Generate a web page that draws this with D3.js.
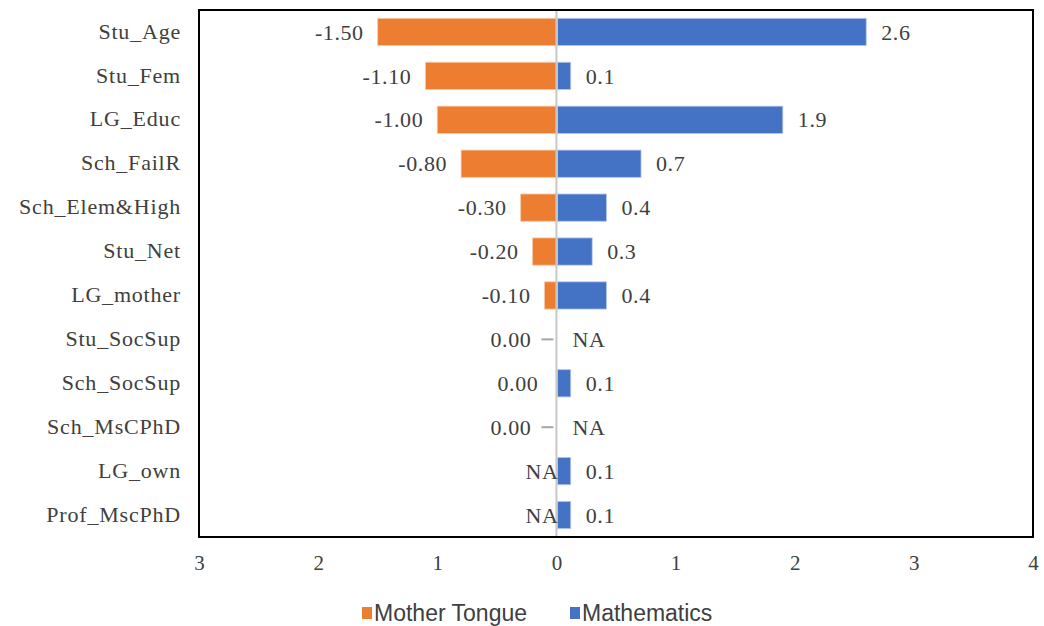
<!DOCTYPE html>
<html>
<head>
<meta charset="utf-8">
<script src="https://cdn.jsdelivr.net/npm/d3@7"></script>
<style>
  body { margin: 0; background: #fff; }
  svg text { font-family: "Liberation Serif", "Times New Roman", serif; fill: #404040; }
  .legend text { font-family: "Liberation Sans", Arial, sans-serif; }
</style>
</head>
<body>
<svg id="chart" width="1044" height="626"></svg>
<script>
// data
const categories = ['Stu_Age', 'Stu_Fem', 'LG_Educ', 'Sch_FailR', 'Sch_Elem&High', 'Stu_Net',
  'LG_mother', 'Stu_SocSup', 'Sch_SocSup', 'Sch_MsCPhD', 'LG_own', 'Prof_MscPhD'];
const motherTongue = [-1.5, -1.1, -1.0, -0.8, -0.3, -0.2, -0.1, 0, 0, 0, null, null];
const mathematics = [2.6, 0.12, 1.9, 0.71, 0.42, 0.3, 0.42, null, 0.12, null, 0.12, 0.12];
const xTicks = [-3, -2, -1, 0, 1, 2, 3, 4];
const seriesNames = ['Mother Tongue', 'Mathematics'];
const colors = ['#ED7D31', '#4472C4'];

const svg = d3.select('#chart');
const margin = { top: 10, right: 11, bottom: 89, left: 199 };
const width = 1044 - margin.left - margin.right;
const height = 626 - margin.top - margin.bottom;

const x = d3.scaleLinear().domain([-3, 4]).range([0, width]);
const y = d3.scaleBand().domain(categories).range([0, height]).paddingInner(0.38).paddingOuter(0.19);

const g = svg.append('g').attr('transform', `translate(${margin.left},${margin.top})`);
const fmt2 = v => d3.format('.2f')(v).replace('−', '-');

// category labels
g.selectAll('.cat')
  .data(categories)
  .enter().append('text')
  .attr('class', 'cat')
  .attr('x', -18)
  .attr('y', d => y(d) + y.bandwidth() / 2 - 1)
  .attr('dy', '0.35em')
  .attr('text-anchor', 'end')
  .style('font-size', '22px')
  .style('letter-spacing', '0.8px')
  .text(d => d);

const rows = categories.map((c, i) => ({ cat: c, mt: motherTongue[i], ma: mathematics[i] }));

// mother tongue bars
g.selectAll('.bar-mt')
  .data(rows.filter(d => d.mt !== null && d.mt !== 0))
  .enter().append('rect')
  .attr('class', 'bar-mt')
  .attr('x', d => x(d.mt))
  .attr('y', d => y(d.cat))
  .attr('width', d => x(0) - x(d.mt))
  .attr('height', y.bandwidth())
  .attr('fill', colors[0])
  .attr('stroke', '#f6c7a6')
  .attr('stroke-width', 0.8);

// mathematics bars
g.selectAll('.bar-ma')
  .data(rows.filter(d => d.ma !== null))
  .enter().append('rect')
  .attr('class', 'bar-ma')
  .attr('x', x(0) + 1)
  .attr('y', d => y(d.cat))
  .attr('width', d => x(d.ma) - x(0) - 1)
  .attr('height', y.bandwidth())
  .attr('fill', colors[1])
  .attr('stroke', '#b4c7e7')
  .attr('stroke-width', 0.8);

// leader dashes for zero values with nothing on the other side
g.selectAll('.dash')
  .data(rows.filter(d => d.mt === 0 && d.ma === null))
  .enter().append('line')
  .attr('x1', x(0) - 15)
  .attr('x2', x(0) - 3)
  .attr('y1', d => y(d.cat) + y.bandwidth() / 2)
  .attr('y2', d => y(d.cat) + y.bandwidth() / 2)
  .attr('stroke', '#a6a6a6')
  .attr('stroke-width', 2);

// zero line
g.append('line')
  .attr('x1', x(0)).attr('x2', x(0))
  .attr('y1', 0).attr('y2', height)
  .attr('stroke', '#c8c8c8')
  .attr('stroke-width', 2);

// labels mother tongue
g.selectAll('.lab-mt')
  .data(rows)
  .enter().append('text')
  .attr('x', d => {
    if (d.mt === null) return x(0) + 2;
    if (d.mt === 0) return x(0) - (d.ma === null ? 25 : 18);
    return x(d.mt) - 14;
  })
  .attr('y', d => y(d.cat) + y.bandwidth() / 2)
  .attr('dy', '0.35em')
  .attr('text-anchor', 'end')
  .style('font-size', '22px')
  .style('letter-spacing', '0.6px')
  .text(d => d.mt === null ? 'NA' : fmt2(d.mt));

// labels mathematics
g.selectAll('.lab-ma')
  .data(rows)
  .enter().append('text')
  .attr('x', d => d.ma === null ? x(0) + 16 : x(d.ma) + 15)
  .attr('y', d => y(d.cat) + y.bandwidth() / 2)
  .attr('dy', '0.35em')
  .attr('text-anchor', 'start')
  .style('font-size', '22px')
  .style('letter-spacing', '0.6px')
  .text(d => d.ma === null ? 'NA' : d3.format('.1f')(d.ma));

// plot frame
g.append('rect')
  .attr('x', 0).attr('y', 0)
  .attr('width', width).attr('height', height)
  .attr('fill', 'none')
  .attr('stroke', '#000')
  .attr('stroke-width', 2);

// x axis (absolute values)
const xAxis = g.append('g')
  .attr('transform', `translate(0,${height})`)
  .call(d3.axisBottom(x).tickValues(xTicks).tickSize(0).tickPadding(18).tickFormat(d => Math.abs(d)));
xAxis.select('.domain').remove();
xAxis.selectAll('text')
  .style('font-size', '21px')
  .style('font-family', '"Liberation Serif", serif')
  .attr('fill', '#404040');

// legend
const legend = svg.append('g').attr('class', 'legend').attr('transform', 'translate(362,613)');
const legX = [0, 208];
seriesNames.forEach((name, i) => {
  const item = legend.append('g').attr('transform', `translate(${legX[i]},0)`);
  item.append('rect').attr('x', 0).attr('y', -6).attr('width', 10).attr('height', 12).attr('fill', colors[i]);
  item.append('text').attr('x', 12).attr('dy', '0.35em').style('font-size', '23px').text(name);
});
</script>
</body>
</html>
